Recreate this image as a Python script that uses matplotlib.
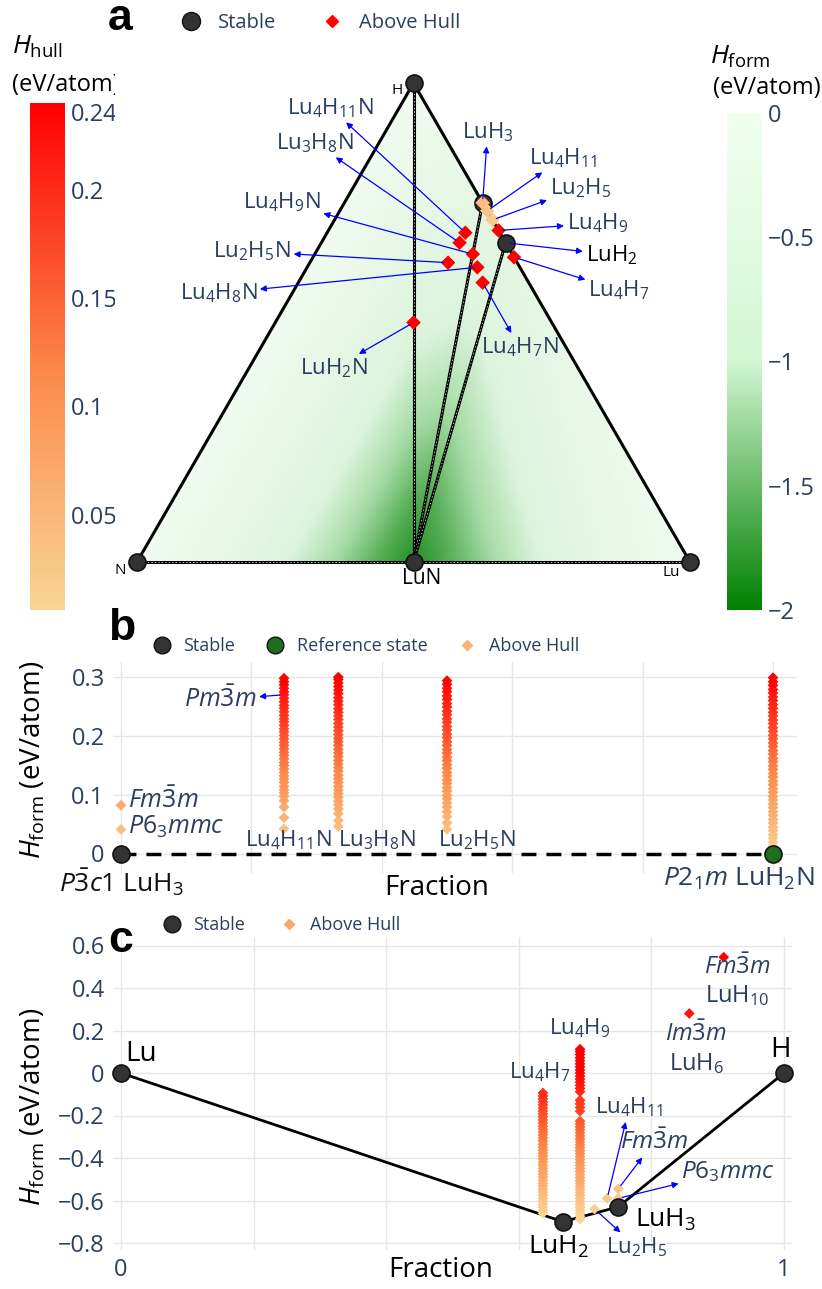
import numpy as np
import matplotlib.pyplot as plt
import matplotlib.tri as mtri
from matplotlib.colors import LinearSegmentedColormap, Normalize
from matplotlib.cm import ScalarMappable
from matplotlib.lines import Line2D
from matplotlib.transforms import Bbox, ScaledTranslation

plt.rcParams['font.family'] = ['Open Sans', 'DejaVu Sans']
plt.rcParams['mathtext.fontset'] = 'custom'
plt.rcParams['mathtext.rm'] = 'Open Sans'
plt.rcParams['mathtext.it'] = 'Open Sans:italic'
plt.rcParams['mathtext.bf'] = 'Open Sans:bold'

W, H = 822, 1289
TXT = '#2a3f5f'

# ---------------- data: ternary Lu-H-N (atoms Lu, H, N) ----------------
hull_names = ['N', 'H', 'Lu', 'LuN', 'LuH3', 'LuH2']
hull_comp = [(0, 0, 1), (0, 1, 0), (1, 0, 0), (1, 0, 1), (1, 3, 0), (1, 2, 0)]
hull_form = [0.0, 0.0, 0.0, -1.95, -0.63, -0.70]
hull_facets = [(0, 1, 3), (1, 4, 3), (4, 5, 3), (5, 2, 3)]
hull_tie_lines = [(1, 3), (4, 3), (5, 3)]

above_names = ['Lu4H11N', 'Lu3H8N', 'Lu4H9N', 'Lu2H5N', 'Lu4H8N', 'LuH2N', 'Lu4H7N',
               'LuH3', 'Lu4H11', 'Lu2H5', 'Lu4H9', 'Lu4H7']
above_comp = [(4, 11, 1), (3, 8, 1), (4, 9, 1), (2, 5, 1), (4, 8, 1), (1, 2, 1), (4, 7, 1),
              (1, 3, 0), (4, 11, 0), (2, 5, 0), (4, 9, 0), (4, 7, 0)]
above_ehull = [0.24, 0.24, 0.24, 0.24, 0.24, 0.24, 0.24, 0.041, 0.03, 0.02, 0.24, 0.24]

tern_labels = ['Lu$_4$H$_{11}$N', 'Lu$_3$H$_8$N', 'Lu$_4$H$_9$N', 'Lu$_2$H$_5$N', 'Lu$_4$H$_8$N',
               'LuH$_2$N', 'Lu$_4$H$_7$N', 'LuH$_3$', 'Lu$_4$H$_{11}$', 'Lu$_2$H$_5$',
               'Lu$_4$H$_9$', 'Lu$_4$H$_7$']

# ---------------- data: panel b (LuH3 -> LuH2N) ----------------
b_stable_frac = [0.0]
b_stable_e = [0.0]
b_ref_frac = [1.0]
b_ref_e = [0.0]
b_col_frac = [0.25, 1 / 3, 0.5, 1.0]
b_col_names = ['Lu$_4$H$_{11}$N', 'Lu$_3$H$_8$N', 'Lu$_2$H$_5$N', '']
b_lu4h11n = [0.042, 0.061, 0.079, 0.090, 0.097, 0.103, 0.108, 0.114, 0.121, 0.127, 0.132, 0.138,
             0.144, 0.150, 0.155, 0.161, 0.167, 0.172, 0.178, 0.184, 0.189, 0.195, 0.201, 0.207,
             0.212, 0.218, 0.224, 0.229, 0.235, 0.241, 0.247, 0.252, 0.258, 0.264, 0.270, 0.275,
             0.281, 0.287, 0.292, 0.298]
b_lu3h8n = [0.046, 0.056, 0.068, 0.076, 0.083, 0.089, 0.096, 0.102, 0.108, 0.114, 0.121, 0.127,
            0.133, 0.140, 0.146, 0.152, 0.158, 0.165, 0.171, 0.177, 0.184, 0.190, 0.196, 0.202,
            0.209, 0.215, 0.221, 0.228, 0.234, 0.240, 0.246, 0.253, 0.259, 0.265, 0.272, 0.278,
            0.284, 0.290, 0.296, 0.300]
b_lu2h5n = [0.041, 0.052, 0.063, 0.071, 0.079, 0.086, 0.093, 0.099, 0.106, 0.112, 0.119, 0.125,
            0.132, 0.138, 0.145, 0.151, 0.158, 0.164, 0.171, 0.177, 0.184, 0.190, 0.197, 0.203,
            0.210, 0.216, 0.223, 0.229, 0.236, 0.242, 0.249, 0.255, 0.262, 0.268, 0.275, 0.281,
            0.288, 0.294]
b_luh2n = [0.006, 0.013, 0.019, 0.026, 0.032, 0.039, 0.045, 0.052, 0.058, 0.065, 0.071, 0.078,
           0.084, 0.091, 0.097, 0.104, 0.110, 0.117, 0.123, 0.130, 0.136, 0.143, 0.149, 0.156,
           0.162, 0.169, 0.175, 0.182, 0.188, 0.195, 0.201, 0.208, 0.214, 0.221, 0.227, 0.234,
           0.240, 0.247, 0.253, 0.260, 0.266, 0.273, 0.279, 0.286, 0.292, 0.299]
b_columns = [b_lu4h11n, b_lu3h8n, b_lu2h5n, b_luh2n]
b_poly_frac = [0.0, 0.0]
b_poly_e = [0.082, 0.041]
b_poly_names = [r'$Fm\bar{3}m$', r'$P6_3mmc$']

# ---------------- data: panel c (Lu -> H) ----------------
c_stable_names = ['Lu', 'LuH$_2$', 'LuH$_3$', 'H']
c_stable_frac = [0.0, 2 / 3, 0.75, 1.0]
c_stable_e = [0.0, -0.70, -0.63, 0.0]
c_col_frac = [7 / 11, 9 / 13]
c_col_names = ['Lu$_4$H$_7$', 'Lu$_4$H$_9$']
c_lu4h7 = [-0.660, -0.646, -0.632, -0.618, -0.604, -0.590, -0.575, -0.561, -0.547, -0.533, -0.519,
           -0.505, -0.490, -0.476, -0.462, -0.448, -0.434, -0.420, -0.405, -0.391, -0.377, -0.363,
           -0.349, -0.335, -0.320, -0.306, -0.292, -0.278, -0.264, -0.250, -0.235, -0.221, -0.207,
           -0.193, -0.179, -0.165, -0.150, -0.136, -0.122, -0.108, -0.094]
c_lu4h9 = [-0.688, -0.674, -0.660, -0.646, -0.632, -0.618, -0.604, -0.590, -0.576, -0.562, -0.548,
           -0.534, -0.520, -0.506, -0.492, -0.478, -0.464, -0.450, -0.436, -0.422, -0.408, -0.394,
           -0.380, -0.366, -0.352, -0.338, -0.324, -0.310, -0.296, -0.282, -0.268, -0.254, -0.240,
           -0.226, -0.180, -0.162, -0.145, -0.128, -0.088, -0.072, -0.058, -0.043, -0.029, -0.015,
           0.000, 0.014, 0.029, 0.043, 0.058, 0.072, 0.087, 0.101, 0.112]
c_columns = [c_lu4h7, c_lu4h9]
c_pt_names = ['Lu$_4$H$_{11}$', r'$Fm\bar{3}m$', r'$P6_3mmc$', 'Lu$_2$H$_5$']
c_pt_frac = [11 / 15, 0.75, 0.75, 5 / 7]
c_pt_e = [-0.59, -0.545, -0.59, -0.64]
c_high_names = [r'$Im\bar{3}m$' + '\n' + 'LuH$_6$', r'$Fm\bar{3}m$' + '\n' + 'LuH$_{10}$']
c_high_frac = [6 / 7, 10 / 11]
c_high_e = [0.28, 0.545]

# ---------------- colours ----------------
cmap_hull = LinearSegmentedColormap.from_list('hull', [(0, '#f9d595'), (0.45, '#fb8d4e'), (1, '#ff0000')])
cmap_form = LinearSegmentedColormap.from_list('form', [(0, '#008000'), (0.5, '#d2f6d2'), (1, '#f0fff0')])
# the filled triangle is rendered lighter than the bar itself
cmap_heat = LinearSegmentedColormap.from_list('heat', [(0, '#1f8a1f'), (0.15, '#55ad55'), (0.3, '#a5dba5'),
                                                        (0.47, '#dcf4dc'), (1, '#f1fbf1')])
norm_form = Normalize(-2, 0)
norm_tern = Normalize(0.006, 0.24)

fig = plt.figure(figsize=(W / 100, H / 100), dpi=100)


def add_axes_px(x0, y0, x1, y1):
    return fig.add_axes([x0 / W, 1 - y1 / H, (x1 - x0) / W, (y1 - y0) / H])


def fig_text(px, py, s, **kw):
    return fig.text(px / W, 1 - py / H, s, **kw)


def tern_xy(lu, h, n):
    tot = lu + h + n
    return (lu + h / 2) / tot, h / tot * np.sqrt(3) / 2


def label(ax, text, xy, dx, dy, arrow=False, color=TXT, size=16, ha='center'):
    props = None
    if arrow:
        props = dict(arrowstyle='<|-', color='blue', lw=0.9, shrinkA=0, shrinkB=3,
                     mutation_scale=9)
    ax.annotate(text, xy=xy, xytext=(dx * 0.72, dy * 0.72), textcoords='offset points',
                ha=ha, va='center', color=color, fontsize=size, arrowprops=props,
                annotation_clip=False, zorder=6)


# ================= panel a: ternary =================
ax_t = add_axes_px(100, 60, 727, 600)
ax_t.set_xlim((100 - 137) / 553, (727 - 137) / 553)
ax_t.set_ylim((562 - 600) / 553, (562 - 60) / 553)
ax_t.axis('off')

hxy = np.array([tern_xy(*c) for c in hull_comp])
tri = mtri.Triangulation(hxy[:, 0], hxy[:, 1], hull_facets)
# linear interpolation of the hull energy inside each facet, on a fine mesh
lin = mtri.LinearTriInterpolator(tri, np.array(hull_form))
fine_tri, fine_e = mtri.UniformTriRefiner(tri).refine_field(np.array(hull_form), triinterpolator=lin,
                                                             subdiv=6)
ax_t.tripcolor(fine_tri, fine_e, cmap=cmap_heat, norm=norm_form, shading='gouraud', zorder=1)
for i, j in hull_tie_lines + [(0, 2)]:
    ax_t.plot(hxy[[i, j], 0], hxy[[i, j], 1], color='black', lw=2.2, zorder=2)
    ax_t.plot(hxy[[i, j], 0], hxy[[i, j], 1], color='white', lw=0.5, ls=(0, (2, 3)), zorder=2)
edge = hxy[[0, 1, 2]]
ax_t.plot(edge[:, 0], edge[:, 1], color='black', lw=2.2, zorder=2, solid_joinstyle='round')
ax_t.scatter(hxy[:, 0], hxy[:, 1], s=150, c='#333333', edgecolors='#111111', linewidths=1.2, zorder=4)

axy = np.array([tern_xy(*c) for c in above_comp])
ax_t.scatter(axy[:, 0], axy[:, 1], s=55, marker='D', c=above_ehull, cmap=cmap_hull, norm=norm_tern,
             linewidths=0, zorder=5)

# ternary label offsets (px)
tern_off = [(-135, 125), (-145, 100), (-191, 52), (-196, 11), (-259, -26), (-80, -46), (37, -65),
            (5, 71), (76, 53), (88, 32), (99, 7)]
for k, (dx, dy) in enumerate(tern_off):
    xy = axy[k] if k != 7 else hxy[4]
    label(ax_t, tern_labels[k], xy, dx, dy, arrow=True)
label(ax_t, 'LuH$_2$', hxy[5], 106, -12, arrow=True, color='black')
label(ax_t, tern_labels[11], axy[11], 105, -33, arrow=True)

label(ax_t, 'H', hxy[1], -16, -7, color='black', size=11)
label(ax_t, 'N', hxy[0], -17, -8, color='black', size=11)
label(ax_t, 'Lu', hxy[2], -19, -10, color='black', size=11)
label(ax_t, 'LuN', hxy[3], 8, -17, color='black', size=15)

# colorbars
cax_l = add_axes_px(30, 103, 65, 610)
cb_l = fig.colorbar(ScalarMappable(norm_tern, cmap_hull), cax=cax_l, ticks=[0.05, 0.1, 0.15, 0.2, 0.24])
cb_l.ax.set_yticklabels(['0.05', '0.1', '0.15', '0.2', '0.24'])
cax_r = add_axes_px(727, 113, 762, 610)
cb_r = fig.colorbar(ScalarMappable(norm_form, cmap_form), cax=cax_r, ticks=[0, -0.5, -1, -1.5, -2])
cb_r.ax.set_yticklabels(['0', '\u22120.5', '\u22121', '\u22121.5', '\u22122'])
for cb in (cb_l, cb_r):
    cb.outline.set_visible(False)
    cb.ax.tick_params(length=0, labelsize=17, labelcolor=TXT, pad=4)

# the left bar's title and top label are cut by the panel edge
clip = Bbox([[0, 0], [115, H]])
lbls = cb_l.ax.get_yticklabels()
for t in lbls:
    t.set_clip_box(clip)
    t.set_clip_on(True)
lbls[-1].set_transform(lbls[-1].get_transform() + ScaledTranslation(0, -9 / 100, fig.dpi_scale_trans))
fig_text(12, 47, r'$H_{\rm hull}$', fontsize=19, va='center', ha='left')
t = fig_text(12, 85, '(eV/atom)', fontsize=17, va='center', ha='left')
t.set_clip_box(clip)
t.set_clip_on(True)
fig_text(740, 57, r'$H_{\rm form}$', fontsize=19, va='center', ha='center')
fig_text(767, 88, '(eV/atom)', fontsize=17, va='center', ha='center')

fig.legend(handles=[Line2D([], [], marker='o', ls='', ms=13, mfc='#333333', mec='#111111'),
                    Line2D([], [], marker='D', ls='', ms=6, mfc='red', mec='red')],
           labels=['Stable', 'Above Hull'], loc='center left',
           bbox_to_anchor=(180 / W, 1 - 23 / H), ncol=2, frameon=False, fontsize=14.5,
           labelcolor=TXT, handlelength=1.1, handletextpad=0.8, columnspacing=2.2,
           borderpad=0, borderaxespad=0)


def style_axes(ax, xt, xl, yt, yl):
    for s in ax.spines.values():
        s.set_visible(False)
    ax.grid(True, color='#e6e6e6', lw=1)
    ax.set_axisbelow(True)
    ax.set_xticks(xt, xl)
    ax.set_yticks(yt, yl)
    ax.tick_params(length=0, labelsize=17, labelcolor=TXT, pad=6)


# ================= panel b =================
ax_b = add_axes_px(113, 662, 797, 873)
ax_b.set_xlim((113 - 121) / 652, (797 - 121) / 652)
ax_b.set_ylim((853.5 - 873) / 588, (853.5 - 662) / 588)
style_axes(ax_b, [0, 0.2, 0.4, 0.6, 0.8, 1.0], [''] * 6, [0, 0.1, 0.2, 0.3], ['0', '0.1', '0.2', '0.3'])
norm_b = Normalize(0, 0.3)
ax_b.plot(b_stable_frac + b_ref_frac, b_stable_e + b_ref_e, color='black', lw=2.5,
          ls=(0, (4.3, 2.9)), zorder=2)
for f, vals in zip(b_col_frac, b_columns):
    ax_b.scatter([f] * len(vals), vals, c=vals, cmap=cmap_hull, norm=norm_b, marker='D', s=30,
                 linewidths=0, zorder=3, clip_on=False)
ax_b.scatter(b_poly_frac, b_poly_e, c=b_poly_e, cmap=cmap_hull, norm=norm_b, marker='D', s=30,
             linewidths=0, zorder=3, clip_on=False)
ax_b.scatter(b_stable_frac, b_stable_e, s=150, c='#333333', edgecolors='#111111', linewidths=1.2,
             zorder=4, clip_on=False)
ax_b.scatter(b_ref_frac, b_ref_e, s=150, c='#1f6e1f', edgecolors='#111111', linewidths=1.2,
             zorder=4, clip_on=False)

label(ax_b, b_col_names[0], (b_col_frac[0], 0), 4, 13)
label(ax_b, b_col_names[1], (b_col_frac[1], 0), 0, 13, ha='left')
label(ax_b, b_col_names[2], (b_col_frac[2], 0), -9, 13, ha='left')
label(ax_b, r'$P\bar{3}c1$ LuH$_3$', (b_stable_frac[0], 0), 0, -29, color='#111111', size=19)
label(ax_b, r'$P2_1m$ LuH$_2$N', (b_ref_frac[0], 0), -34, -25, size=19)
label(ax_b, b_poly_names[0], (b_poly_frac[0], b_poly_e[0]), 7, 5, size=18, ha='left')
label(ax_b, b_poly_names[1], (b_poly_frac[1], b_poly_e[1]), 7, 2, size=18, ha='left')
label(ax_b, r'$Pm\bar{3}m$', (b_col_frac[0], 0.27), -64, -5, arrow=True, size=18)

fig_text(437, 888, 'Fraction', fontsize=20, ha='center', va='center')
fig_text(33, 760, r'$H_{\rm form}$ (eV/atom)', fontsize=20, rotation=90, ha='center', va='center')
fig.legend(handles=[Line2D([], [], marker='o', ls='', ms=12, mfc='#333333', mec='#111111'),
                    Line2D([], [], marker='o', ls='', ms=12, mfc='#1f6e1f', mec='#111111'),
                    Line2D([], [], marker='D', ls='', ms=5, mfc='#f9b47a', mec='#f9b47a')],
           labels=['Stable', 'Reference state', 'Above Hull'], loc='center left',
           bbox_to_anchor=(151 / W, 1 - 646 / H), ncol=3, frameon=False, fontsize=13,
           labelcolor=TXT, handlelength=1.2, handletextpad=0.6, columnspacing=1.6,
           borderpad=0, borderaxespad=0)

# ================= panel c =================
ax_c = add_axes_px(113, 937, 792, 1250)
ax_c.set_xlim((113 - 121) / 663, (792 - 121) / 663)
ax_c.set_ylim((1073 - 1250) / 212.5, (1073 - 937) / 212.5)
style_axes(ax_c, [0, 0.2, 0.4, 0.6, 0.8, 1.0], ['0', '', '', '', '', '1'],
           [0.6, 0.4, 0.2, 0, -0.2, -0.4, -0.6, -0.8],
           ['0.6', '0.4', '0.2', '0', '\u22120.2', '\u22120.4', '\u22120.6', '\u22120.8'])
norm_c = Normalize(0, 0.7)
ax_c.plot(c_stable_frac, c_stable_e, color='black', lw=2, zorder=2)


def hull_c(f):
    return np.interp(f, c_stable_frac, c_stable_e)


for f, vals in zip(c_col_frac, c_columns):
    v = np.array(vals)
    ax_c.scatter([f] * len(v), v, c=v - hull_c(f), cmap=cmap_hull, norm=norm_c, marker='D', s=30,
                 linewidths=0, zorder=3)
pf, pe = np.array(c_pt_frac), np.array(c_pt_e)
ax_c.scatter(pf, pe, c=pe - hull_c(pf), cmap=cmap_hull, norm=norm_c, marker='D', s=30,
             linewidths=0, zorder=3)
hf, he = np.array(c_high_frac), np.array(c_high_e)
ax_c.scatter(hf, he, c=he - hull_c(hf), cmap=cmap_hull, norm=norm_c, marker='D', s=30,
             linewidths=0, zorder=3)
ax_c.scatter(c_stable_frac, c_stable_e, s=150, c='#333333', edgecolors='#111111', linewidths=1.2,
             zorder=4, clip_on=False)

label(ax_c, c_stable_names[0], (c_stable_frac[0], c_stable_e[0]), 4, 19, color='black', size=20, ha='left')
label(ax_c, c_stable_names[1], (c_stable_frac[1], c_stable_e[1]), -4, -25, color='black', size=19)
label(ax_c, c_stable_names[2], (c_stable_frac[2], c_stable_e[2]), 47, -13, color='black', size=19)
label(ax_c, c_stable_names[3], (c_stable_frac[3], c_stable_e[3]), -4, 23, color='black', size=20)
label(ax_c, c_col_names[0], (c_col_frac[0], max(c_lu4h7)), -3, 21)
label(ax_c, c_col_names[1], (c_col_frac[1], max(c_lu4h9)), 0, 21)
c_off = [(22, 91), (36, 47), (110, 27), (42, -38)]
for k, (dx, dy) in enumerate(c_off):
    size = 17.5 if '$F' in c_pt_names[k] or '$P' in c_pt_names[k] else 16
    label(ax_c, c_pt_names[k], (c_pt_frac[k], c_pt_e[k]), dx, dy, arrow=True, size=size)
label(ax_c, c_high_names[0], (c_high_frac[0], c_high_e[0]), 7, -35, size=17)
label(ax_c, c_high_names[1], (c_high_frac[1], c_high_e[1]), 14, -24, size=17)

fig_text(441, 1270, 'Fraction', fontsize=20, ha='center', va='center')
fig_text(33, 1107, r'$H_{\rm form}$ (eV/atom)', fontsize=20, rotation=90, ha='center', va='center')
fig.legend(handles=[Line2D([], [], marker='o', ls='', ms=12, mfc='#333333', mec='#111111'),
                    Line2D([], [], marker='D', ls='', ms=5, mfc='#f9a86a', mec='#f9a86a')],
           labels=['Stable', 'Above Hull'], loc='center left',
           bbox_to_anchor=(161 / W, 1 - 925 / H), ncol=2, frameon=False, fontsize=13,
           labelcolor=TXT, handlelength=1.2, handletextpad=0.6, columnspacing=1.8,
           borderpad=0, borderaxespad=0)

# panel letters
for s, py in [('a', 18), ('b', 628), ('c', 940)]:
    fig_text(108, py, s, fontsize=32, fontweight='bold', family='Liberation Sans', va='center')

fig.savefig('out.png', dpi=100)
